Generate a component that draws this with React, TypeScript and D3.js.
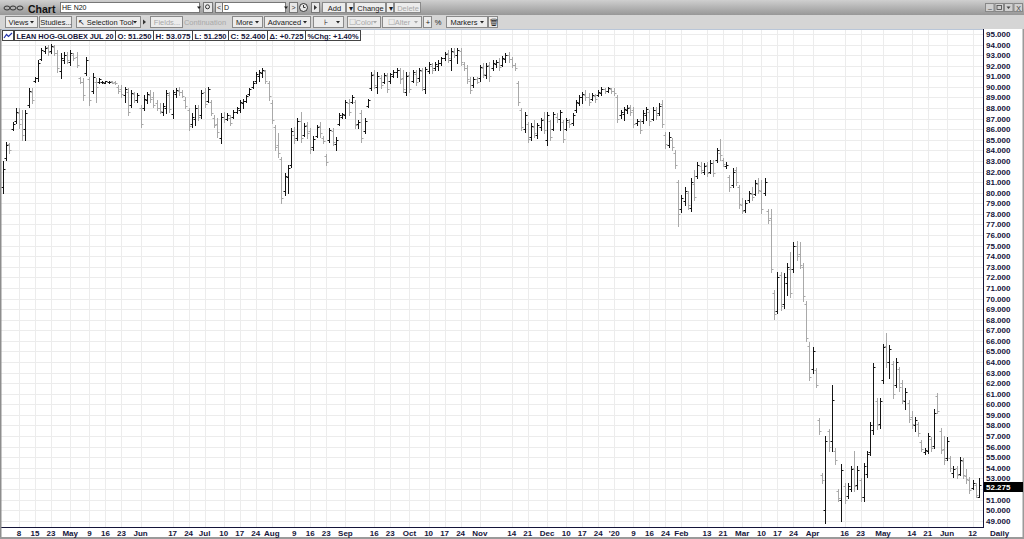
import React from 'react';
import * as d3 from 'd3';

// daily OHLC, LEAN HOG-GLOBEX JUL 20
const highs = [
  83.0, 84.8, 84.7, 86.7, 88.0, 88.0, 87.8, 87.8, 89.9, 89.9, 90.9, 92.5, 93.7, 93.9, 94.0, 94.1, 94.0, 93.5, 93.2, 93.3,
  93.3, 93.5, 93.2, 93.3, 90.9, 90.8, 92.8, 90.9, 91.3, 90.8, 90.8, 90.6, 90.6, 90.6, 90.6, 90.6, 90.2, 90.2, 90.0, 89.9,
  89.7, 89.5, 89.4, 88.3, 89.2, 89.5, 89.7, 89.5, 88.8, 88.5, 88.5, 89.7, 89.5, 89.7, 89.9, 90.0, 89.7, 89.0, 88.0, 87.5,
  88.3, 88.3, 89.7, 89.9, 90.0, 88.8, 87.3, 87.1, 87.5, 87.6, 87.5, 87.3, 87.8, 88.1, 88.8, 88.9, 89.2, 89.9, 90.6, 91.4,
  91.6, 91.8, 91.6, 90.6, 88.8, 86.4, 85.6, 83.4, 81.9, 82.6, 86.1, 86.2, 87.1, 87.6, 86.6, 86.7, 86.1, 85.4, 86.4, 86.7,
  85.4, 83.7, 86.1, 86.1, 85.3, 87.5, 87.5, 88.8, 88.9, 89.2, 88.8, 86.9, 87.8, 87.1, 88.9, 91.4, 91.6, 91.4, 91.1, 91.3,
  91.3, 91.3, 91.6, 91.8, 91.8, 91.6, 91.4, 91.4, 91.6, 91.6, 91.8, 91.8, 91.9, 92.4, 92.3, 92.4, 92.5, 92.8, 93.3, 93.5,
  93.7, 93.7, 93.7, 93.7, 92.4, 92.1, 90.9, 90.9, 90.9, 92.1, 92.3, 92.3, 92.4, 92.5, 92.5, 92.7, 92.9, 93.2, 93.3, 92.8,
  92.3, 90.6, 88.0, 87.6, 86.7, 86.6, 86.9, 86.6, 87.1, 87.6, 87.6, 86.9, 87.6, 87.5, 87.8, 86.9, 87.1, 87.0, 87.5, 88.8,
  89.2, 89.5, 89.7, 89.4, 89.4, 89.3, 89.7, 90.0, 89.9, 90.0, 89.9, 89.9, 89.2, 87.8, 88.1, 88.3, 88.3, 88.1, 87.0, 87.0,
  87.8, 88.1, 87.8, 88.1, 88.1, 88.5, 88.8, 85.7, 85.7, 85.2, 84.0, 81.2, 79.8, 80.5, 80.2, 81.4, 82.1, 82.9, 82.9, 82.8,
  82.9, 83.1, 83.1, 84.2, 85.1, 83.3, 82.9, 81.7, 82.3, 82.4, 80.7, 79.5, 79.3, 80.2, 80.5, 81.2, 81.4, 81.2, 81.4, 78.5,
  78.5, 70.8, 72.5, 72.5, 72.4, 73.4, 74.4, 75.3, 75.4, 75.3, 73.4, 69.8, 65.9, 65.4, 63.4, 58.7, 53.5, 57.0, 57.7, 61.8,
  55.9, 52.0, 54.4, 52.6, 52.6, 54.2, 55.6, 54.2, 53.0, 54.5, 55.6, 58.3, 63.9, 60.6, 60.6, 65.7, 66.7, 65.6, 64.1, 64.4,
  63.5, 62.3, 61.5, 60.4, 59.4, 58.8, 58.3, 56.6, 55.9, 57.3, 56.9, 59.6, 61.1, 57.8, 57.0, 56.9, 55.1, 54.2, 54.2, 55.0,
  54.9, 53.9, 53.1, 52.8, 52.6, 53.075,
];

const lows = [
  80.0, 83.1, 83.8, 85.9, 86.6, 86.1, 85.0, 85.0, 88.1, 88.5, 90.5, 90.6, 92.5, 93.2, 93.0, 93.2, 93.0, 91.4, 90.8, 92.3,
  92.3, 92.1, 92.5, 91.9, 90.4, 88.8, 91.1, 88.3, 89.4, 88.6, 90.4, 90.4, 90.4, 90.4, 90.4, 90.3, 89.4, 89.0, 88.6, 87.3,
  88.1, 88.6, 88.6, 86.2, 87.8, 88.5, 88.6, 88.1, 87.8, 87.5, 87.3, 87.5, 87.6, 87.1, 89.0, 89.2, 89.0, 88.0, 85.9, 86.2,
  86.4, 86.9, 87.1, 88.1, 88.6, 87.3, 86.2, 85.3, 84.7, 86.7, 86.9, 86.4, 87.1, 87.5, 87.6, 88.0, 88.6, 89.2, 89.9, 90.4,
  90.6, 90.9, 90.4, 88.8, 86.6, 84.0, 83.4, 79.0, 79.8, 80.0, 82.4, 84.7, 85.0, 84.8, 85.4, 85.2, 83.8, 84.0, 85.3, 85.3,
  84.7, 82.6, 84.8, 84.5, 84.0, 86.4, 87.1, 87.1, 87.3, 88.5, 86.1, 86.1, 84.8, 85.6, 88.1, 89.7, 89.9, 89.4, 89.9, 90.4,
  89.5, 90.4, 90.9, 90.9, 90.4, 89.5, 89.2, 89.5, 90.5, 90.2, 90.6, 89.7, 89.4, 91.3, 91.3, 91.6, 91.6, 92.1, 92.5, 92.4,
  91.6, 92.8, 92.3, 92.1, 91.6, 90.4, 89.4, 90.0, 90.4, 90.6, 90.9, 90.8, 90.6, 91.6, 91.9, 91.6, 92.0, 92.4, 92.4, 91.9,
  91.6, 88.3, 85.9, 85.7, 84.8, 85.0, 85.3, 85.2, 85.9, 85.6, 84.5, 85.0, 85.9, 86.7, 85.9, 84.8, 85.9, 86.2, 86.4, 87.6,
  88.3, 88.5, 88.8, 88.3, 88.8, 88.6, 89.1, 89.2, 89.4, 89.5, 89.4, 89.2, 86.7, 87.1, 86.9, 87.5, 87.3, 86.2, 86.4, 85.6,
  86.6, 86.9, 86.4, 86.9, 87.0, 87.3, 86.2, 84.2, 84.3, 84.0, 82.3, 76.9, 78.2, 78.8, 78.5, 78.3, 79.3, 81.4, 81.9, 81.8,
  81.6, 81.9, 81.6, 82.9, 83.1, 82.5, 82.3, 80.2, 80.5, 80.7, 78.6, 78.1, 78.2, 79.1, 79.3, 79.8, 80.0, 78.1, 79.8, 77.1,
  72.5, 68.1, 68.6, 68.9, 69.1, 70.3, 70.1, 72.5, 73.6, 72.9, 69.8, 66.0, 62.3, 63.0, 61.6, 57.2, 52.6, 48.8, 55.6, 55.6,
  54.4, 50.9, 49.0, 50.7, 51.1, 51.8, 51.8, 52.0, 50.9, 50.9, 53.1, 55.2, 57.2, 57.7, 57.8, 62.0, 63.5, 62.5, 60.6, 61.6,
  61.3, 60.1, 59.6, 58.3, 57.8, 57.5, 57.0, 55.6, 55.3, 55.4, 55.6, 55.9, 59.2, 55.4, 54.4, 54.7, 53.7, 53.1, 53.0, 53.3,
  53.0, 52.6, 51.6, 52.0, 51.2, 51.25,
];

const opens = [
  80.5, 83.3, 84.6, 86.0, 86.8, 87.5, 87.0, 86.0, 88.3, 89.5, 90.6, 90.8, 92.6, 93.4, 93.8, 93.4, 93.8, 93.2, 91.5, 92.5,
  93.0, 92.4, 93.0, 92.8, 90.8, 90.5, 91.3, 90.7, 89.6, 90.5, 90.5, 90.5, 90.4, 90.5, 90.6, 90.5, 90.0, 89.8, 89.2, 89.5,
  88.3, 89.3, 88.8, 88.0, 88.0, 88.8, 89.2, 89.0, 88.5, 88.0, 87.6, 88.0, 89.2, 87.4, 89.3, 89.6, 89.5, 88.8, 87.8, 86.5,
  87.0, 88.0, 87.3, 89.5, 88.7, 88.6, 87.1, 86.5, 85.2, 87.2, 87.0, 87.1, 87.2, 87.6, 87.8, 88.5, 88.7, 89.3, 90.0, 90.6,
  91.0, 91.3, 91.5, 90.4, 88.5, 86.2, 84.5, 83.2, 80.2, 81.5, 82.6, 85.5, 85.2, 86.8, 85.5, 86.4, 85.8, 84.3, 85.4, 86.3,
  85.2, 83.5, 85.0, 85.8, 84.6, 86.5, 87.2, 87.3, 88.5, 88.6, 88.6, 86.5, 87.5, 85.8, 88.2, 89.9, 91.2, 90.0, 90.8, 90.5,
  91.0, 90.6, 91.0, 91.4, 91.6, 90.8, 89.5, 91.1, 90.6, 91.2, 90.8, 91.5, 89.8, 91.5, 92.0, 91.8, 92.0, 92.3, 92.7, 93.2,
  92.5, 93.3, 93.0, 93.4, 92.2, 91.8, 90.6, 90.2, 90.7, 90.8, 91.8, 91.1, 92.1, 91.8, 92.2, 92.4, 92.1, 92.6, 93.0, 92.6,
  92.1, 90.4, 87.8, 86.0, 86.5, 85.3, 86.2, 85.5, 86.2, 87.0, 85.0, 86.8, 86.0, 87.2, 87.0, 86.7, 86.0, 86.7, 86.6, 87.8,
  88.5, 89.0, 89.2, 89.0, 88.9, 89.1, 89.2, 89.4, 89.8, 89.6, 89.8, 89.6, 89.0, 87.3, 87.4, 87.8, 88.1, 87.8, 86.6, 86.8,
  86.8, 87.3, 87.6, 87.0, 87.8, 87.5, 88.4, 85.5, 84.5, 85.0, 83.8, 81.0, 78.5, 79.2, 80.0, 78.6, 80.8, 81.6, 82.5, 82.0,
  82.6, 82.0, 82.8, 83.1, 83.8, 83.1, 82.5, 81.5, 80.7, 82.1, 80.5, 78.8, 78.4, 79.3, 79.9, 79.9, 80.8, 80.2, 80.0, 78.3,
  77.6, 70.5, 68.8, 72.2, 69.5, 71.5, 72.8, 72.8, 75.0, 74.2, 73.0, 69.5, 65.5, 63.3, 63.2, 58.5, 53.3, 50.0, 57.5, 56.5,
  55.6, 51.8, 51.0, 52.3, 51.3, 52.0, 54.0, 52.4, 52.8, 51.2, 53.4, 55.5, 57.6, 60.3, 58.1, 62.3, 65.5, 64.0, 63.8, 61.8,
  63.3, 62.0, 60.3, 60.1, 58.8, 58.0, 58.1, 56.4, 55.5, 55.6, 56.7, 56.1, 60.8, 57.5, 55.8, 54.9, 54.9, 53.5, 54.0, 53.4,
  54.6, 53.2, 52.8, 52.1, 52.4, 51.25,
];

const closes = [
  82.2, 84.5, 84.0, 86.5, 87.6, 86.5, 85.5, 87.5, 89.6, 88.8, 90.8, 92.3, 93.5, 93.7, 93.3, 93.9, 93.2, 91.8, 92.7, 93.0,
  92.5, 93.2, 92.7, 92.1, 90.5, 89.2, 92.5, 88.8, 90.9, 90.0, 90.7, 90.5, 90.6, 90.5, 90.4, 90.4, 89.6, 89.3, 89.8, 87.6,
  89.4, 88.8, 89.2, 86.5, 88.9, 89.3, 88.9, 88.3, 88.0, 87.7, 88.2, 89.4, 87.9, 89.5, 89.7, 89.5, 89.1, 88.2, 86.3, 87.2,
  88.0, 87.2, 89.4, 88.4, 89.8, 87.5, 86.4, 85.7, 87.2, 87.0, 87.3, 86.6, 87.6, 88.0, 88.6, 88.7, 89.1, 89.8, 90.4, 91.2,
  91.4, 91.6, 90.6, 89.1, 86.9, 84.3, 83.8, 79.5, 81.6, 82.3, 85.8, 85.0, 86.8, 85.2, 86.3, 85.6, 84.1, 85.1, 86.2, 85.6,
  84.9, 82.9, 85.9, 84.8, 85.0, 87.3, 87.4, 88.6, 87.6, 89.0, 86.4, 86.7, 85.2, 86.8, 88.8, 91.1, 90.2, 91.0, 90.2, 91.1,
  89.8, 91.2, 91.4, 91.6, 90.7, 89.8, 91.0, 89.8, 91.4, 90.5, 91.6, 90.0, 91.7, 92.2, 91.6, 92.2, 92.3, 92.7, 93.1, 92.7,
  93.4, 93.0, 93.5, 92.4, 91.8, 90.7, 89.7, 90.7, 90.5, 91.9, 91.2, 92.0, 91.0, 92.3, 92.4, 91.9, 92.7, 93.0, 92.6, 92.1,
  91.8, 88.6, 86.2, 87.3, 85.1, 86.3, 85.6, 86.4, 86.9, 85.9, 87.3, 85.3, 87.4, 87.0, 87.6, 85.1, 86.9, 86.5, 87.3, 88.6,
  89.0, 89.3, 89.0, 88.6, 89.2, 88.9, 89.5, 89.8, 89.6, 89.9, 89.6, 89.4, 87.0, 87.6, 87.9, 88.0, 87.6, 86.5, 86.8, 85.9,
  87.5, 87.9, 86.8, 87.8, 87.3, 88.2, 86.5, 84.6, 85.3, 84.3, 82.6, 78.0, 79.5, 80.2, 78.8, 81.0, 79.6, 82.6, 82.1, 82.5,
  81.9, 82.8, 81.9, 84.0, 83.6, 82.7, 82.6, 80.5, 82.0, 81.0, 78.9, 78.3, 79.0, 80.0, 79.6, 80.9, 80.3, 78.5, 81.0, 77.4,
  72.8, 68.5, 72.0, 69.3, 72.0, 73.0, 70.5, 75.0, 74.0, 73.2, 70.2, 66.3, 62.6, 65.0, 61.8, 57.5, 52.8, 56.5, 56.0, 60.4,
  54.7, 51.1, 53.8, 51.0, 52.3, 53.9, 52.3, 53.8, 51.2, 54.2, 55.3, 58.0, 63.5, 58.0, 60.3, 65.4, 64.0, 65.2, 61.0, 64.0,
  61.6, 60.4, 61.2, 58.6, 58.1, 58.5, 57.3, 55.8, 55.7, 57.0, 55.9, 59.2, 59.4, 55.7, 54.7, 56.5, 54.0, 53.9, 53.3, 54.7,
  53.3, 52.9, 51.9, 52.6, 51.4, 52.4,
];

// date axis labels and the bar they sit on
const dateLabels = [
  '8', '15', '23', 'May', '9', '16', '23', 'Jun', '17', '24', 'Jul', '10', '17', '24', 'Aug', '9', '16', '23', 'Sep',
  '16', '23', 'Oct', '10', '17', '24', 'Nov', '14', '21', 'Dec', '10', '17', '24', "'20", '9', '16', '24', 'Feb',
  '13', '21', 'Mar', '10', '17', '24', 'Apr', '16', '23', 'May', '14', '21', 'Jun', '12',
];
const dateLabelBars = [
  5, 10, 15, 21, 27, 32, 37, 43, 53, 58, 63, 69, 74, 79, 84, 91, 96, 101, 107,
  116, 121, 127, 133, 138, 143, 149, 159, 164, 170, 176, 181, 186, 191, 197, 202, 207, 212,
  220, 225, 231, 237, 242, 247, 253, 263, 268, 275, 284, 289, 295, 303,
];

const infoFields = ['LEAN HOG-GLOBEX JUL 20', 'O: 51.250', 'H: 53.075', 'L: 51.250', 'C: 52.400', 'Δ: +0.725', '%Chg: +1.40%'];
const infoWidths = [101, 38, 39, 36, 39, 38, 55];
const lastPrice = 52.275;

const W = 1024;
const H = 539;
const PLOT_L = 1;
const PLOT_R = 983;
const PLOT_T = 29;
const PLOT_B = 527;
const NAVY = '#15153a';
const FONT = 'Liberation Sans, Arial, sans-serif';

function Btn({ x, w, label, y = 16, h = 11, dim = false, arrow = false }: any) {
  return (
    <g>
      <rect x={x + 0.5} y={y + 0.5} width={w} height={h} fill="#ececec" stroke="#8a8a8a" />
      <text x={x + (arrow ? (w - 7) / 2 : w / 2) + 1} y={y + 8.5} fontSize={7.5} textAnchor="middle"
        fill={dim ? '#a8a8a8' : '#1a1a1a'} fontFamily={FONT}>{label}</text>
      {arrow && <path d={`M${x + w - 7},${y + 5}h4l-2,2.5z`} fill={dim ? '#a8a8a8' : '#222'} />}
    </g>
  );
}

export default function App() {
  const n = highs.length;
  const x = d3.scaleLinear().domain([0, n - 1]).range([3, 979]);
  const y = d3.scaleLinear().domain([49, 95]).range([520.7, 34]);
  const priceTicks = d3.range(49, 96);
  const fmt = d3.format('.3f');
  const lastY = Math.round(y(lastPrice));

  let upPath = '';
  let downPath = '';
  for (let i = 0; i < n; i++) {
    const bx = Math.round(x(i)) + 0.5;
    const yo = Math.round(y(opens[i])) + 0.5;
    const yc = Math.round(y(closes[i])) + 0.5;
    const seg = `M${bx},${Math.round(y(highs[i]))}V${Math.round(y(lows[i])) + 1}M${bx - 2},${yo}H${bx}M${bx},${yc}H${bx + 2}`;
    if (closes[i] >= opens[i]) upPath += seg;
    else downPath += seg;
  }

  let ix = 2;
  const infoBoxes = infoFields.map((t, k) => {
    const bx = k === 0 ? 14 : ix;
    ix = bx + infoWidths[k];
    return { t, x: bx, w: infoWidths[k] };
  });

  return (
    <div style={{ position: 'fixed', left: 0, top: 0 }}>
      <svg width={W} height={H} style={{ display: 'block' }} fontFamily={FONT}>
        <defs>
          <linearGradient id="tb" x1="0" y1="0" x2="0" y2="1">
            <stop offset="0" stopColor="#cfcfcf" />
            <stop offset="1" stopColor="#979797" />
          </linearGradient>
        </defs>
        <rect width={W} height={H} fill="#fff" />

        {/* grid */}
        <g stroke="#ececec" strokeWidth={1}>
          {priceTicks.map((p) => (
            <line key={p} x1={PLOT_L} x2={PLOT_R} y1={Math.round(y(p)) + 0.5} y2={Math.round(y(p)) + 0.5} />
          ))}
          {dateLabelBars.map((b, k) => (
            <line key={k} x1={Math.round(x(b)) + 0.5} x2={Math.round(x(b)) + 0.5} y1={PLOT_T} y2={PLOT_B} />
          ))}
        </g>

        {/* bars */}
        <path d={downPath} stroke="#a9a9a9" fill="none" strokeWidth={1} />
        <path d={upPath} stroke="#141414" fill="none" strokeWidth={1} />

        {/* axes frame */}
        <line x1={PLOT_L} x2={PLOT_R} y1={PLOT_T + 0.5} y2={PLOT_T + 0.5} stroke="#b9c6d8" />
        <line x1={PLOT_R + 0.5} x2={PLOT_R + 0.5} y1={PLOT_T} y2={PLOT_B + 1} stroke={NAVY} />
        <line x1={0} x2={PLOT_R + 1} y1={PLOT_B + 0.5} y2={PLOT_B + 0.5} stroke={NAVY} />
        <rect x={0} y={15} width={1.5} height={H - 15} fill="#8d8d8d" />
        <rect x={0} y={H - 2} width={W} height={2} fill="#9a9a9a" />
        <rect x={W - 1.5} y={15} width={1.5} height={H - 15} fill="#9a9a9a" />

        {/* price axis */}
        <g fontSize={8} fontWeight="bold" fill={NAVY}>
          {priceTicks.filter((p) => Math.abs(y(p) - lastY) > 7).map((p) => (
            <text key={p} x={PLOT_R + 3} y={y(p) + 3}>{fmt(p)}</text>
          ))}
        </g>
        <rect x={PLOT_R + 1} y={lastY - 4} width={39} height={10} fill="#000" />
        <text x={PLOT_R + 3} y={lastY + 4} fontSize={8} fontWeight="bold" fill="#fff">{fmt(lastPrice)}</text>

        {/* date axis */}
        <g fontSize={8} fontWeight="bold" fill={NAVY} textAnchor="middle">
          {dateLabels.map((t, k) => (
            <text key={k} x={x(dateLabelBars[k])} y={536}>{t}</text>
          ))}
        </g>
        <text x={990} y={536} fontSize={8} fontWeight="bold" fill={NAVY}>Daily</text>

        {/* info strip */}
        <rect x={2.5} y={30.5} width={11} height={10} fill="#fff" stroke="#444" />
        <path d="M4,38 L6.5,34.5 L8.5,36.5 L12,33" stroke="#2233aa" fill="none" strokeWidth={1.2} />
        {infoBoxes.map((b, k) => (
          <g key={k}>
            <rect x={b.x + 0.5} y={30.5} width={b.w} height={10} fill="#fff" stroke="#444" />
            <text x={b.x + 2.5} y={38.5} fontSize={7.4} fontWeight="bold" fill={NAVY}
              textLength={b.w - 4} lengthAdjust="spacingAndGlyphs">{b.t}</text>
          </g>
        ))}

        {/* title bar */}
        <rect x={0} y={0} width={W} height={15} fill="url(#tb)" />
        <g fill="none" stroke="#333" strokeWidth={1}>
          <ellipse cx={7} cy={8} rx={3} ry={2} />
          <ellipse cx={13} cy={8} rx={3} ry={2} />
          <ellipse cx={20} cy={8} rx={3} ry={2} />
        </g>
        <text x={28} y={12.5} fontSize={10.5} fontWeight="bold" fill="#111">Chart</text>
        <rect x={60.5} y={2.5} width={139} height={10} fill="#fff" stroke="#777" />
        <text x={62} y={10} fontSize={7} fill="#111">HE N20</text>
        <path d="M197,6.5h4l-2,2.5z" fill="#222" />
        <rect x={203.5} y={2.5} width={9} height={10} fill="#e8e8e8" stroke="#777" />
        <circle cx={207.5} cy={6.8} r={2} fill="none" stroke="#333" />
        <rect x={215.5} y={2.5} width={7} height={10} fill="#e8e8e8" stroke="#777" />
        <text x={219} y={10} fontSize={7} textAnchor="middle" fill="#333">&lt;</text>
        <rect x={222.5} y={2.5} width={63} height={10} fill="#fff" stroke="#777" />
        <text x={224} y={10} fontSize={7} fill="#111">D</text>
        <path d="M284,6.5h4l-2,2.5z" fill="#222" />
        <rect x={289.5} y={2.5} width={8} height={10} fill="#e8e8e8" stroke="#777" />
        <text x={293.5} y={10} fontSize={7} textAnchor="middle" fill="#333">&gt;</text>
        <circle cx={303.5} cy={7.5} r={4} fill="#e8e8e8" stroke="#333" />
        <path d="M303.5,5v2.5h2" stroke="#333" fill="none" />
        <rect x={311.5} y={2.5} width={8} height={10} fill="#e8e8e8" stroke="#777" />
        <path d="M314,5l3,2.5l-3,2.5z" fill="#333" />
        <Btn x={322} w={23} y={2} h={10} label="Add" />
        <Btn x={346} w={7} y={2} h={10} label="▾" />
        <Btn x={354} w={31} y={2} h={10} label="Change" />
        <Btn x={386} w={7} y={2} h={10} label="▾" />
        <Btn x={394} w={26} y={2} h={10} label="Delete" dim />
        {[0, 1, 2, 3].map((k) => (
          <rect key={k} x={985.5 + k * 9.5} y={3.5} width={8.5} height={8} fill="#d0d0d0" stroke="#888" />
        ))}
        <text x={990} y={10.5} fontSize={7} textAnchor="middle" fill="#444">–</text>
        <rect x={997} y={5.5} width={4.5} height={4} fill="none" stroke="#444" strokeWidth={0.8} />
        <path d="M1006.5,6.5h4l-2,2.5z" fill="#444" />
        <text x={1018.5} y={10.5} fontSize={7} textAnchor="middle" fill="#444">X</text>

        {/* toolbar */}
        <rect x={0} y={15} width={W} height={14} fill="#d5d5d5" />
        <Btn x={5} w={32} label="Views" arrow />
        <Btn x={39} w={32} label="Studies..." />
        <Btn x={76} w={64} label="↖ Selection Tool" arrow />
        <path d="M143,19.5l3,2.5l-3,2.5z" fill="#333" />
        <Btn x={150} w={32} label="Fields..." dim />
        <text x={205} y={24.5} fontSize={7.5} textAnchor="middle" fill="#a8a8a8">Continuation</text>
        <Btn x={232} w={30} label="More" arrow />
        <Btn x={264} w={46} label="Advanced" arrow />
        <Btn x={313} w={30} label="⊦" arrow />
        <Btn x={347} w={33} label="☐Color" arrow dim />
        <Btn x={382} w={39} label="☐Alter" arrow dim />
        <Btn x={423} w={8} label="+" />
        <text x={438} y={24.5} fontSize={7.5} textAnchor="middle" fill="#222">%</text>
        <Btn x={446} w={41} label="Markers" arrow />
        <Btn x={488} w={9} label="🗑" />
      </svg>
    </div>
  );
}
